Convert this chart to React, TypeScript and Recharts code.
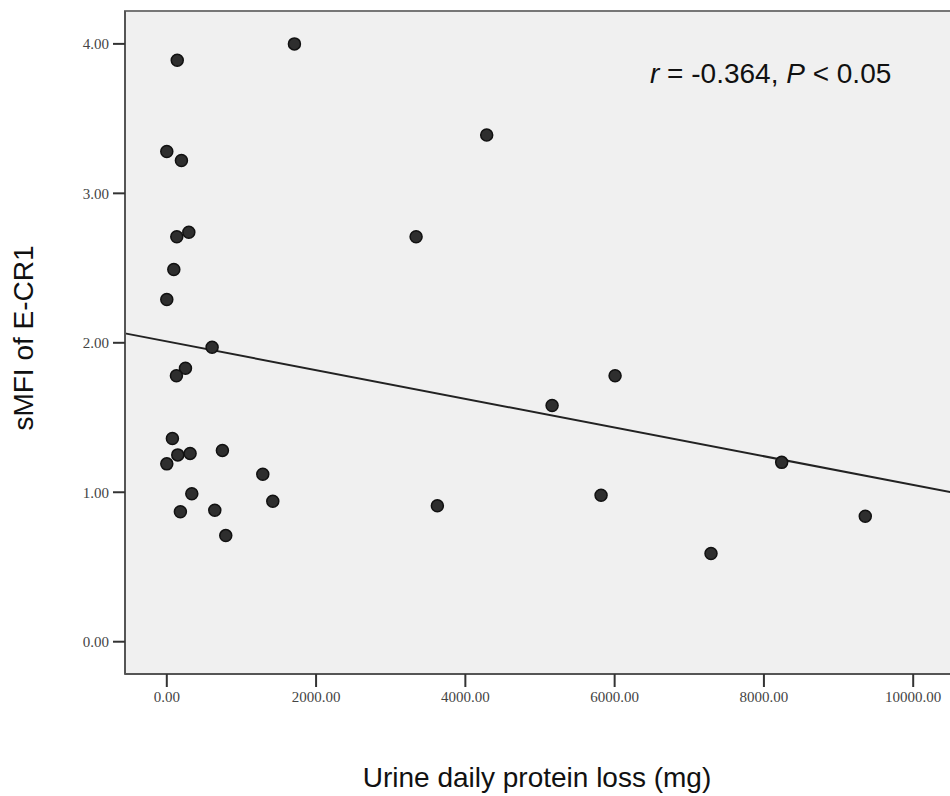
import React from 'react';
import { ReferenceArea, ReferenceLine, Scatter, ScatterChart, XAxis, YAxis } from 'recharts';

// urine daily protein loss (mg) vs sMFI of E-CR1
const proteinLoss = [
  1710, 140, 0, 196, 134, 295, 94, 0, 607, 250, 129, 75, 147, 312, 0, 745, 1286, 335, 182, 643,
  1420, 790, 4286, 3340, 6006, 5162, 3625, 5818, 8238, 9358, 7291,
];
const smfi = [
  4.0, 3.89, 3.28, 3.22, 2.71, 2.74, 2.49, 2.29, 1.97, 1.83, 1.78, 1.36, 1.25, 1.26, 1.19, 1.28,
  1.12, 0.99, 0.87, 0.88, 0.94, 0.71, 3.39, 2.71, 1.78, 1.58, 0.91, 0.98, 1.2, 0.84, 0.59,
];

const xTicks = [0, 2000, 4000, 6000, 8000, 10000];
const yTicks = [0, 1, 2, 3, 4];
const xDomain = [-560, 10560];
const yDomain = [-0.216, 4.22];

// fitted line end points (x, y)
const fitStart = [-560, 2.063];
const fitEnd = [10560, 0.995];

const points = proteinLoss.map((x, i) => ({ x, y: smfi[i] }));

const tickStyle = { fontFamily: '"Liberation Serif", serif', fontSize: 15, fill: '#444' };
const labelFont = '"Liberation Sans", Arial, sans-serif';

const Dot = (p: any) => (
  <circle cx={p.cx} cy={p.cy} r={6} fill="#2e2e2e" stroke="#111" strokeWidth={1.5} />
);

export default function App() {
  return (
    <div style={{ position: 'absolute', left: 0, top: 0, width: 950, height: 796, overflow: 'hidden', background: '#fff' }}>
      <ScatterChart width={960} height={796} margin={{ top: 11, right: 5, bottom: 82, left: 65 }}>
        <XAxis
          type="number"
          dataKey="x"
          domain={xDomain}
          ticks={xTicks}
          allowDataOverflow
          height={40}
          tickSize={13}
          tickMargin={4}
          tick={tickStyle}
          tickFormatter={(v) => v.toFixed(2)}
          axisLine={{ stroke: '#555', strokeWidth: 2 }}
          tickLine={{ stroke: '#333', strokeWidth: 2 }}
        />
        <YAxis
          type="number"
          dataKey="y"
          domain={yDomain}
          ticks={yTicks}
          allowDataOverflow
          width={60}
          tickSize={12}
          tickMargin={4}
          tick={tickStyle}
          tickFormatter={(v) => v.toFixed(2)}
          axisLine={{ stroke: '#555', strokeWidth: 2 }}
          tickLine={{ stroke: '#333', strokeWidth: 2 }}
        />
        <ReferenceArea
          x1={xDomain[0]}
          x2={xDomain[1]}
          y1={yDomain[0]}
          y2={yDomain[1]}
          fill="#f0f0f0"
          fillOpacity={1}
          stroke="#777"
          strokeWidth={2}
        />
        <ReferenceLine
          segment={[
            { x: fitStart[0], y: fitStart[1] },
            { x: fitEnd[0], y: fitEnd[1] },
          ]}
          stroke="#222"
          strokeWidth={2}
        />
        <Scatter data={points} shape={Dot} isAnimationActive={false} />
      </ScatterChart>
      <svg width={950} height={796} style={{ position: 'absolute', left: 0, top: 0, pointerEvents: 'none' }}>
        <text x={650} y={83} fontFamily={labelFont} fontSize={28} fill="#111">
          <tspan fontStyle="italic">r</tspan>
          <tspan> = -0.364, </tspan>
          <tspan fontStyle="italic">P</tspan>
          <tspan> &lt; 0.05</tspan>
        </text>
        <text x={537} y={787} textAnchor="middle" fontFamily={labelFont} fontSize={28} fill="#111">
          Urine daily protein loss (mg)
        </text>
        <text
          transform="translate(33,338) rotate(-90)"
          textAnchor="middle"
          fontFamily={labelFont}
          fontSize={28}
          fill="#111"
        >
          sMFI of E-CR1
        </text>
      </svg>
    </div>
  );
}
